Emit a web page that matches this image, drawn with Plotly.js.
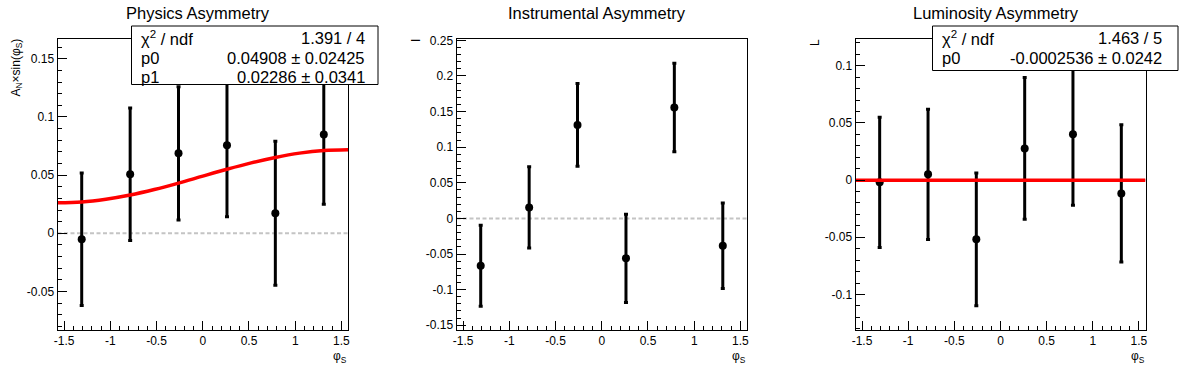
<!DOCTYPE html>
<html>
<head>
<meta charset="utf-8">
<script src="https://cdn.plot.ly/plotly-3.0.1.min.js"></script>
<style>
  html, body { margin: 0; padding: 0; background: #fff; }
  #chart { width: 1196px; height: 372px; }
</style>
</head>
<body>
<div id="chart"></div>
<script>
// ---------------- data ----------------
const phiS = [-1.309, -0.785, -0.262, 0.262, 0.785, 1.309];

const physY   = [-0.0052, 0.0507, 0.0687, 0.0756, 0.0172, 0.0850];
const physErr = [0.0570, 0.0570, 0.0573, 0.0613, 0.0620, 0.0600];

const instrY   = [-0.0665, 0.0154, 0.1313, -0.0561, 0.1557, -0.0384];
const instrErr = [0.0570, 0.0570, 0.0580, 0.0620, 0.0620, 0.0600];

const lumiY   = [-0.0020, 0.0050, -0.0518, 0.0277, 0.0400, -0.0117];
const lumiErr = [0.0570, 0.0570, 0.0580, 0.0620, 0.0620, 0.0600];

// fit curve of physics panel
const physFitX = [-1.571, -1.309, -1.047, -0.785, -0.524, -0.262, 0, 0.262, 0.524, 0.785, 1.047, 1.309, 1.571];
const physFitY = [0.0262, 0.0269, 0.0293, 0.0329, 0.0376, 0.0431, 0.0491, 0.0550, 0.0605, 0.0652, 0.0689, 0.0712, 0.0719];

// luminosity constant fit
const lumiFitX = [-1.5708, 1.5708];
const lumiFitY = [-0.0002536, -0.0002536];

const titles = ["Physics Asymmetry", "Instrumental Asymmetry", "Luminosity Asymmetry"];
const yTitles = ["A<sub>N</sub>×sin(φ<sub>S</sub>)", "I", "L"];
const xTitle = "φ<sub>S</sub>";

const xTickVals = [-1.5, -1, -0.5, 0, 0.5, 1, 1.5];
const xTickText = ["-1.5", "-1", "-0.5", "0", "0.5", "1", "1.5"];
const yTickVals1 = [-0.05, 0, 0.05, 0.1, 0.15];
const yTickText1 = ["-0.05", "0", "0.05", "0.1", "0.15"];
const yTickVals2 = [-0.15, -0.1, -0.05, 0, 0.05, 0.1, 0.15, 0.2, 0.25];
const yTickText2 = ["-0.15", "-0.1", "-0.05", "0", "0.05", "0.1", "0.15", "0.2", "0.25"];
const yTickVals3 = [-0.1, -0.05, 0, 0.05, 0.1];
const yTickText3 = ["-0.1", "-0.05", "0", "0.05", "0.1"];

const stats1 = [["χ<sup>2</sup> / ndf", "1.391 / 4"], ["p0", "0.04908 ± 0.02425"], ["p1", "0.02286 ± 0.0341"]];
const stats3 = [["χ<sup>2</sup> / ndf", "1.463 / 5"], ["p0", "-0.0002536 ± 0.0242"]];

// ---------------- layout geometry (pixels) ----------------
const W = 1196, H = 372;
const px = v => v / W;
const py = v => 1 - v / H;
const FONT = "Liberation Sans, Arial, sans-serif";

const frames = [[57.5, 348], [456.5, 747], [855.5, 1145.5]];
const frameTop = 39.3, frameBot = 330;
const yRanges = [[-0.0832, 0.1668], [-0.1567, 0.2515], [-0.1311, 0.1231]];
const xRange = [-1.5708, 1.5708];

function xaxisDef(i) {
  return {
    domain: [px(frames[i][0]), px(frames[i][1])],
    range: xRange, anchor: i === 0 ? 'y' : 'y' + (i + 1),
    showline: true, linecolor: 'black', linewidth: 1, mirror: true,
    ticks: 'inside', ticklen: 9, tickwidth: 1, tickcolor: 'black',
    tickmode: 'array', tickvals: xTickVals, ticktext: xTickText,
    minor: { ticks: 'inside', ticklen: 4.5, tickwidth: 1, tickcolor: 'black', dtick: 0.1, tick0: 0, showgrid: false },
    showgrid: false, zeroline: false,
    tickfont: { family: FONT, size: 12, color: 'black' }
  };
}
function yaxisDef(i, vals, text) {
  return {
    domain: [py(frameBot), py(frameTop)],
    range: yRanges[i], anchor: i === 0 ? 'x' : 'x' + (i + 1),
    showline: true, linecolor: 'black', linewidth: 1, mirror: true,
    ticks: 'inside', ticklen: 9, tickwidth: 1, tickcolor: 'black',
    tickmode: 'array', tickvals: vals, ticktext: text,
    minor: { ticks: 'inside', ticklen: 4.5, tickwidth: 1, tickcolor: 'black', dtick: 0.01, tick0: 0, showgrid: false },
    showgrid: false, zeroline: false,
    tickfont: { family: FONT, size: 12, color: 'black' }
  };
}

function pointsTrace(y, err, i) {
  return {
    type: 'scatter', mode: 'markers', x: phiS, y: y,
    xaxis: i === 0 ? 'x' : 'x' + (i + 1), yaxis: i === 0 ? 'y' : 'y' + (i + 1),
    marker: { color: 'black', size: 8, symbol: 'circle' },
    error_y: { type: 'data', array: err, visible: true, color: 'black', thickness: 3, width: 2 },
    showlegend: false, hoverinfo: 'skip'
  };
}

const data = [
  pointsTrace(physY, physErr, 0),
  pointsTrace(instrY, instrErr, 1),
  pointsTrace(lumiY, lumiErr, 2),
  { type: 'scatter', mode: 'lines', x: physFitX, y: physFitY, xaxis: 'x', yaxis: 'y',
    line: { color: '#ff0000', width: 3.5, shape: 'spline' }, showlegend: false, hoverinfo: 'skip' },
  { type: 'scatter', mode: 'lines', x: lumiFitX, y: lumiFitY, xaxis: 'x3', yaxis: 'y3',
    line: { color: '#ff0000', width: 3.5 }, showlegend: false, hoverinfo: 'skip' }
];

const shapes = [];
const annotations = [];

// zero dashed lines
for (let i = 0; i < 3; i++) {
  const xr = i === 0 ? 'x domain' : 'x' + (i + 1) + ' domain';
  const yr = i === 0 ? 'y' : 'y' + (i + 1);
  shapes.push({ type: 'line', xref: xr, yref: yr, x0: 0, x1: 1, y0: 0, y1: 0, layer: 'below',
    line: { color: '#c4c4c4', width: 2, dash: '4px,2.5px' } });
}

// titles
const titleX = [198, 597, 996];
for (let i = 0; i < 3; i++) {
  annotations.push({ xref: 'paper', yref: 'paper', x: px(titleX[i]), y: py(13), xanchor: 'center', yanchor: 'middle',
    text: titles[i], showarrow: false, font: { family: FONT, size: 16.5, color: 'black' } });
  // y titles (rotated, aligned to top of axis)
  annotations.push({ xref: 'paper', yref: 'paper', x: px(frames[i][0] - 41), y: py(37), xanchor: 'center', yanchor: 'top',
    text: yTitles[i], textangle: -90, showarrow: false, font: { family: FONT, size: 12, color: 'black' } });
  // x titles (right aligned)
  annotations.push({ xref: 'paper', yref: 'paper', x: px(frames[i][1] + 1), y: py(357), xanchor: 'right', yanchor: 'middle',
    text: xTitle, showarrow: false, font: { family: FONT, size: 12, color: 'black' } });
}

// stats boxes
function statsBox(x0, x1, y0, y1, rows, rowY, textL, textR) {
  shapes.push({ type: 'rect', xref: 'paper', yref: 'paper', x0: px(x0), x1: px(x1), y0: py(y1), y1: py(y0),
    fillcolor: 'white', line: { color: 'black', width: 1 }, layer: 'above' });
  rows.forEach((r, k) => {
    annotations.push({ xref: 'paper', yref: 'paper', x: px(textL), y: py(rowY[k]), xanchor: 'left', yanchor: 'middle',
      text: r[0], showarrow: false, font: { family: FONT, size: 16.5, color: 'black' } });
    annotations.push({ xref: 'paper', yref: 'paper', x: px(textR), y: py(rowY[k]), xanchor: 'right', yanchor: 'middle',
      text: r[1], showarrow: false, font: { family: FONT, size: 16.5, color: 'black' } });
  });
}
statsBox(131.5, 378, 26, 84.5, stats1, [37.5, 58.5, 77], 139, 367);
statsBox(932.5, 1178, 26, 70.5, stats3, [37.5, 58], 940, 1164);

const layout = {
  width: W, height: H,
  margin: { l: 0, r: 0, t: 0, b: 0, pad: 0 },
  paper_bgcolor: 'white', plot_bgcolor: 'white',
  showlegend: false,
  font: { family: FONT, color: 'black' },
  xaxis: xaxisDef(0), xaxis2: xaxisDef(1), xaxis3: xaxisDef(2),
  yaxis: yaxisDef(0, yTickVals1, yTickText1),
  yaxis2: yaxisDef(1, yTickVals2, yTickText2),
  yaxis3: yaxisDef(2, yTickVals3, yTickText3),
  shapes: shapes, annotations: annotations
};

Plotly.newPlot('chart', data, layout, { staticPlot: true, displayModeBar: false });
</script>
</body>
</html>
